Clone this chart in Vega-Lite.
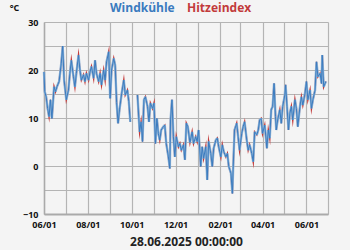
{
 "$schema": "https://vega.github.io/schema/vega-lite/v6.json",
 "width": 284,
 "height": 192,
 "autosize": {"type": "none"},
 "padding": {"left": 44, "top": 22, "right": 22, "bottom": 36},
 "background": "#f4f4f4",
 "config": {"view": {"stroke": null, "fill": "#f4f4f4"}, "font": "Open Sans"},
 "data": {"values": [
  {"date":"2024-06-01","t":19.6},{"date":"2024-06-02","t":15.5},{"date":"2024-06-04","t":14.4},{"date":"2024-06-06","t":12.0},
  {"date":"2024-06-08","t":10.3},{"date":"2024-06-10","t":13.8},{"date":"2024-06-12","t":9.9},{"date":"2024-06-15","t":16.5},
  {"date":"2024-06-17","t":15.5},{"date":"2024-06-19","t":16.5},{"date":"2024-06-22","t":17.6},{"date":"2024-06-25","t":21.4},
  {"date":"2024-06-27","t":25.0},{"date":"2024-06-29","t":17.9},{"date":"2024-07-02","t":13.8},{"date":"2024-07-05","t":15.8},
  {"date":"2024-07-07","t":19.3},{"date":"2024-07-09","t":22.0},{"date":"2024-07-12","t":18.6},{"date":"2024-07-14","t":16.5},
  {"date":"2024-07-16","t":19.3},{"date":"2024-07-19","t":23.1},{"date":"2024-07-21","t":20.0},{"date":"2024-07-23","t":17.9},
  {"date":"2024-07-26","t":19.0},{"date":"2024-07-28","t":17.6},{"date":"2024-07-30","t":19.3},{"date":"2024-08-02","t":17.9},
  {"date":"2024-08-04","t":19.6},{"date":"2024-08-06","t":20.7},{"date":"2024-08-09","t":18.3},{"date":"2024-08-11","t":22.0},
  {"date":"2024-08-13","t":19.3},{"date":"2024-08-16","t":17.6},{"date":"2024-08-18","t":19.3},{"date":"2024-08-20","t":16.9},
  {"date":"2024-08-23","t":20.0},{"date":"2024-08-25","t":17.9},{"date":"2024-08-27","t":21.7},{"date":"2024-08-30","t":23.8},
  {"date":"2024-09-01","t":14.1},{"date":"2024-09-03","t":20.0},{"date":"2024-09-06","t":22.4},{"date":"2024-09-08","t":21.0},
  {"date":"2024-09-10","t":13.2},{"date":"2024-09-12","t":8.9},{"date":"2024-09-14","t":11.7},{"date":"2024-09-17","t":15.1},
  {"date":"2024-09-20","t":17.9},{"date":"2024-09-22","t":14.8},{"date":"2024-09-25","t":15.8},{"date":"2024-09-27","t":13.4},
  {"date":"2024-09-29","t":9.2},{"date":"2024-10-04","t":null},{"date":"2024-10-09","t":14.8},{"date":"2024-10-11","t":9.6},
  {"date":"2024-10-12","t":7.1},{"date":"2024-10-14","t":9.2},{"date":"2024-10-16","t":5.1},{"date":"2024-10-18","t":13.8},
  {"date":"2024-10-20","t":14.4},{"date":"2024-10-23","t":12.4},{"date":"2024-10-25","t":9.2},{"date":"2024-10-27","t":13.1},
  {"date":"2024-10-30","t":12.0},{"date":"2024-11-01","t":13.1},{"date":"2024-11-03","t":4.7},{"date":"2024-11-05","t":9.9},
  {"date":"2024-11-07","t":6.8},{"date":"2024-11-09","t":5.4},{"date":"2024-11-11","t":7.5},{"date":"2024-11-14","t":8.2},
  {"date":"2024-11-16","t":8.5},{"date":"2024-11-18","t":4.7},{"date":"2024-11-21","t":1.9},{"date":"2024-11-23","t":-0.5},
  {"date":"2024-11-24","t":9.6},{"date":"2024-11-26","t":13.8},{"date":"2024-11-28","t":6.1},{"date":"2024-11-30","t":1.9},
  {"date":"2024-12-02","t":6.1},{"date":"2024-12-05","t":4.0},{"date":"2024-12-07","t":4.7},{"date":"2024-12-09","t":3.3},
  {"date":"2024-12-12","t":4.4},{"date":"2024-12-14","t":1.3},{"date":"2024-12-16","t":8.9},{"date":"2024-12-18","t":8.2},
  {"date":"2024-12-21","t":4.9},{"date":"2024-12-24","t":7.1},{"date":"2024-12-26","t":4.7},{"date":"2024-12-29","t":6.1},
  {"date":"2024-12-31","t":5.1},{"date":"2025-01-02","t":7.5},{"date":"2025-01-05","t":-0.1},{"date":"2025-01-07","t":4.0},
  {"date":"2025-01-09","t":1.6},{"date":"2025-01-12","t":4.0},{"date":"2025-01-14","t":-2.9},{"date":"2025-01-16","t":5.1},
  {"date":"2025-01-19","t":2.6},{"date":"2025-01-21","t":-0.1},{"date":"2025-01-23","t":3.7},{"date":"2025-01-26","t":5.4},
  {"date":"2025-01-28","t":5.8},{"date":"2025-01-30","t":4.0},{"date":"2025-02-02","t":1.9},{"date":"2025-02-04","t":4.4},
  {"date":"2025-02-06","t":3.0},{"date":"2025-02-09","t":1.9},{"date":"2025-02-11","t":2.6},{"date":"2025-02-13","t":-0.1},
  {"date":"2025-02-16","t":-1.5},{"date":"2025-02-18","t":-5.7},{"date":"2025-02-19","t":-0.8},{"date":"2025-02-21","t":7.5},
  {"date":"2025-02-24","t":8.9},{"date":"2025-02-26","t":6.1},{"date":"2025-02-28","t":3.3},{"date":"2025-03-03","t":6.8},
  {"date":"2025-03-05","t":8.2},{"date":"2025-03-07","t":9.2},{"date":"2025-03-10","t":5.4},{"date":"2025-03-12","t":3.3},
  {"date":"2025-03-14","t":4.4},{"date":"2025-03-17","t":2.6},{"date":"2025-03-19","t":0.9},{"date":"2025-03-21","t":7.1},
  {"date":"2025-03-24","t":6.5},{"date":"2025-03-26","t":7.5},{"date":"2025-03-28","t":9.6},{"date":"2025-03-30","t":9.9},
  {"date":"2025-04-01","t":6.8},{"date":"2025-04-04","t":8.5},{"date":"2025-04-06","t":5.4},{"date":"2025-04-07","t":3.7},
  {"date":"2025-04-09","t":7.5},{"date":"2025-04-11","t":5.8},{"date":"2025-04-13","t":11.7},{"date":"2025-04-15","t":12.4},
  {"date":"2025-04-17","t":17.2},{"date":"2025-04-19","t":10.3},{"date":"2025-04-20","t":7.5},{"date":"2025-04-22","t":9.6},
  {"date":"2025-04-25","t":11.7},{"date":"2025-04-27","t":8.9},{"date":"2025-04-29","t":12.4},{"date":"2025-05-02","t":14.8},
  {"date":"2025-05-03","t":16.9},{"date":"2025-05-05","t":12.4},{"date":"2025-05-07","t":7.5},{"date":"2025-05-09","t":11.0},
  {"date":"2025-05-11","t":12.4},{"date":"2025-05-13","t":9.6},{"date":"2025-05-16","t":13.8},{"date":"2025-05-18","t":12.0},
  {"date":"2025-05-20","t":8.2},{"date":"2025-05-23","t":12.4},{"date":"2025-05-25","t":14.4},{"date":"2025-05-27","t":12.7},
  {"date":"2025-05-30","t":15.1},{"date":"2025-06-01","t":17.6},{"date":"2025-06-03","t":13.8},{"date":"2025-06-06","t":15.8},
  {"date":"2025-06-08","t":12.0},{"date":"2025-06-10","t":13.8},{"date":"2025-06-13","t":15.8},{"date":"2025-06-15","t":21.7},
  {"date":"2025-06-17","t":18.6},{"date":"2025-06-20","t":19.3},{"date":"2025-06-22","t":17.2},{"date":"2025-06-23","t":23.1},
  {"date":"2025-06-25","t":16.5},{"date":"2025-06-28","t":17.6}
 ]},
 "encoding": {
  "x": {
   "field": "date", "type": "temporal",
   "scale": {"type": "utc", "domain": [{"year": 2024, "month": 6, "date": 1, "utc": true}, {"year": 2025, "month": 7, "date": 1, "utc": true}]},
   "title": "28.06.2025 00:00:00",
   "axis": {
    "tickCount": {"interval": "month", "step": 1},
    "labelExpr": "utcmonth(datum.value) % 2 == 1 ? utcFormat(datum.value, '%m/%d') : ''",
    "ticks": false, "grid": true, "gridColor": "#b4b4b4", "gridWidth": 1.2,
    "domainColor": "#aaaaaa", "domainWidth": 2,
    "labelFontWeight": "bold", "labelFontSize": 9, "labelColor": "#111111", "labelPadding": 6,
    "labelFlush": false, "labelOverlap": false, "labelBound": false,
    "titleFontSize": 12, "titleFontWeight": "bold", "titleColor": "#222222", "titlePadding": 7
   }
  },
  "y": {
   "field": "t", "type": "quantitative",
   "scale": {"domain": [-10, 30], "nice": false, "zero": false},
   "title": "°C",
   "axis": {
    "values": [-10, -5, 0, 5, 10, 15, 20, 25, 30],
    "labelExpr": "datum.value % 10 == 0 ? datum.label : ''",
    "ticks": false, "grid": true, "gridColor": "#b4b4b4", "gridWidth": 1.2,
    "domainColor": "#aaaaaa", "domainWidth": 1.5,
    "labelFontWeight": "bold", "labelFontSize": 9, "labelColor": "#111111", "labelPadding": 6,
    "titleAngle": 0, "titleX": -30, "titleY": -15, "titleAlign": "center", "titleBaseline": "middle",
    "titleFontSize": 9, "titleFontWeight": "bold", "titleColor": "#111111"
   }
  }
 },
 "layer": [
  {
   "mark": {"type": "line", "strokeWidth": 1.6, "strokeJoin": "miter", "strokeMiterLimit": 10},
   "encoding": {"color": {"datum": "Hitzeindex"}}
  },
  {
   "mark": {"type": "line", "strokeWidth": 2.4, "strokeJoin": "bevel", "color": "#93b6d8"},
   "encoding": {}
  },
  {
   "mark": {"type": "line", "strokeWidth": 1, "strokeJoin": "round"},
   "encoding": {
    "color": {
     "datum": "Windkühle",
     "scale": {"domain": ["Windkühle", "Hitzeindex"], "range": ["#3a7bbf", "#c23b3b"]},
     "legend": {
      "orient": "none", "legendX": 54, "legendY": -20, "direction": "horizontal", "title": null,
      "symbolSize": 0, "symbolOpacity": 0, "symbolStrokeWidth": 0, "labelOffset": 0, "columnPadding": -19,
      "labelFontSize": 12, "labelFontWeight": "bold",
      "labelColor": {"expr": "datum.value == 'Windkühle' ? '#3a7bbf' : '#c23b3b'"}
     }
    }
   }
  }
 ]
}
